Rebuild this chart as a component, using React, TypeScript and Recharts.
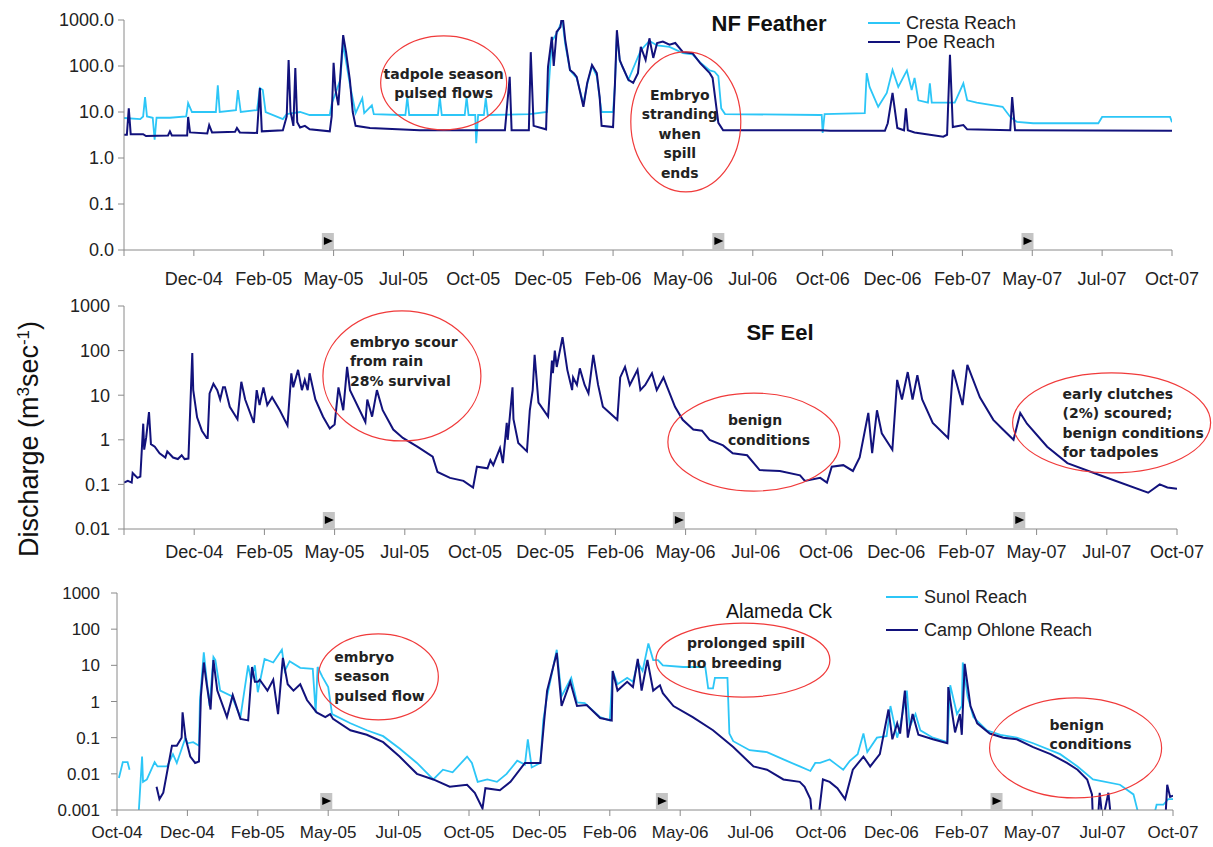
import React from 'react';
import { LineChart, Line, XAxis, YAxis, ReferenceDot, Legend } from 'recharts';

const FONT = '"Liberation Sans", Arial, sans-serif';
const NOTE_FONT = '"DejaVu Sans", Verdana, sans-serif';
const LIGHT = '#2cc6f7';
const NAVY = '#12127c';
const RED = '#f03a3a';

// x axis = days since 1 Oct 2004, one tick every 73 days
const dayTicks = [0, 73, 146, 219, 292, 365, 438, 511, 584, 657, 730, 803, 876, 949, 1022, 1095];
const monthLabels = ['Oct-04', 'Dec-04', 'Feb-05', 'May-05', 'Jul-05', 'Oct-05', 'Dec-05', 'Feb-06',
  'May-06', 'Jul-06', 'Oct-06', 'Dec-06', 'Feb-07', 'May-07', 'Jul-07', 'Oct-07'];
const monthLabelsNoFirst = ['', ...monthLabels.slice(1)];

// ---- NF Feather ----
const crestaDays = [0, 17, 20, 22, 24, 30, 32, 34, 48, 65, 67, 71, 96, 98, 100, 117, 119, 122, 139, 142, 145, 148, 166, 170, 184, 194, 215, 217, 226, 229, 236, 242, 249, 251, 259, 261, 288, 294, 296, 298, 328, 330, 332, 356, 358, 360, 367, 368, 370, 376, 378, 380, 424, 442, 447, 452, 458, 461, 466, 473, 480, 484, 489, 494, 497, 499, 511, 513, 515, 518, 527, 540, 549, 557, 570, 584, 594, 602, 612, 617, 621, 624, 628, 727, 729, 730, 732, 774, 776, 779, 788, 797, 803, 809, 818, 823, 826, 830, 840, 842, 844, 860, 868, 877, 881, 891, 918, 926, 933, 950, 1018, 1022, 1093, 1095];
const crestaFlow = [7.4, 7, 8, 21, 8, 7.5, 2.5, 7.5, 7.5, 8, 15.6, 10, 10, 38, 10, 11, 30, 10, 11, 33, 30, 10, 7, 9, 10, 8.6, 8.6, 15, 50, 300, 40, 9.5, 20, 9.5, 14, 9, 8.6, 8.6, 21, 8.6, 8.6, 21, 8.6, 8.6, 21, 8.6, 8.6, 2.1, 8.6, 8.6, 20, 8.6, 9, 10, 350, 500, 1000, 300, 80, 55, 15, 40, 100, 60, 20, 10, 10, 40, 500, 130, 50, 220, 350, 280, 260, 190, 180, 120, 80, 75, 60, 12, 9, 8.6, 8.6, 3.5, 9, 9.5, 70, 35, 13, 26, 82, 35, 80, 30, 55, 18, 16, 42, 16, 16, 16, 42, 18, 16, 13, 7.8, 6.1, 5.7, 5.7, 7.8, 7.8, 6];
const poeDays = [0, 3, 5, 7, 20, 23, 46, 48, 50, 66, 67, 69, 87, 89, 92, 116, 118, 121, 139, 142, 144, 166, 170, 172, 174, 177, 179, 181, 184, 189, 194, 215, 217, 219, 221, 224, 226, 229, 232, 236, 239, 242, 257, 309, 398, 403, 405, 423, 425, 428, 441, 443, 447, 449, 452, 456, 458, 461, 466, 470, 473, 480, 484, 489, 494, 497, 499, 511, 513, 515, 518, 521, 527, 532, 537, 540, 545, 549, 553, 557, 563, 570, 576, 584, 594, 602, 612, 615, 621, 626, 727, 738, 795, 798, 803, 808, 815, 817, 819, 826, 856, 860, 863, 866, 877, 881, 926, 928, 931, 1095];
const poeFlow = [3.2, 3.2, 12, 3.3, 3.3, 3.0, 3.1, 3.8, 3.1, 3.1, 7.8, 3.6, 3.4, 5.2, 3.6, 3.7, 4.5, 3.6, 3.5, 33, 3.8, 4.0, 8, 135, 10, 5, 90, 6, 4.6, 5.0, 4.2, 3.8, 8, 117, 30, 14, 60, 470, 200, 50, 10, 5, 4.5, 4.0, 4.0, 58, 4.0, 4.0, 200, 5, 4.2, 95, 430, 100, 550, 700, 1400, 370, 82, 70, 58, 13, 43, 105, 70, 21, 5, 4.7, 43, 600, 135, 95, 50, 43, 70, 260, 135, 400, 150, 316, 340, 290, 316, 200, 190, 115, 70, 55, 5.8, 4.0, 4.0, 3.9, 3.9, 5.7, 26, 4.5, 4.0, 12, 4.0, 3.6, 2.9, 3.2, 175, 4.7, 5.2, 4.2, 4.0, 21, 4.0, 3.9];
const featherTicks = [0.01, 0.1, 1, 10, 100, 1000];
const featherTickLabels = ['0.0', '0.1', '1.0', '10.0', '100.0', '1000.0'];
const featherMarkDays = [213, 621, 944];

// ---- SF Eel ----
const eelDays = [0, 4, 8, 9, 14, 17, 20, 21, 23, 26, 28, 32, 37, 43, 45, 51, 56, 60, 63, 67, 71, 72, 76, 81, 86, 87, 89, 93, 97, 100, 103, 105, 110, 118, 122, 126, 135, 138, 141, 145, 149, 154, 162, 170, 174, 176, 181, 185, 188, 191, 193, 199, 207, 214, 219, 223, 228, 232, 235, 251, 253, 258, 263, 269, 280, 290, 305, 321, 326, 339, 353, 363, 367, 378, 381, 384, 391, 394, 398, 399, 404, 405, 410, 419, 422, 425, 427, 431, 441, 445, 446, 448, 450, 456, 461, 466, 467, 471, 474, 479, 483, 488, 493, 498, 513, 516, 521, 526, 534, 537, 542, 549, 554, 561, 565, 573, 581, 592, 601, 609, 623, 633, 648, 661, 682, 703, 708, 724, 731, 736, 748, 758, 765, 774, 778, 783, 788, 799, 804, 809, 815, 820, 825, 830, 841, 857, 862, 872, 877, 890, 904, 914, 925, 932, 939, 960, 981, 1015, 1065, 1077, 1085, 1095];
const eelFlow = [0.11, 0.12, 0.11, 0.18, 0.14, 0.15, 2.3, 0.6, 1.1, 4.2, 0.8, 0.7, 0.5, 0.4, 0.55, 0.4, 0.37, 0.45, 0.37, 0.38, 88, 13, 3.2, 1.6, 1.1, 1.1, 11, 18, 13, 8, 15, 15, 5.5, 2.9, 20, 8, 2.4, 13, 6, 15, 6, 9, 4.6, 2.1, 31, 15, 37, 13, 22, 13, 31, 8, 3.3, 1.8, 2.2, 15, 4.6, 43, 13, 2.5, 8, 3.3, 13, 4.6, 1.7, 1.1, 0.7, 0.42, 0.19, 0.14, 0.12, 0.085, 0.25, 0.23, 0.35, 0.27, 0.65, 0.3, 2.4, 1, 15, 2.9, 0.85, 0.55, 4.6, 13, 80, 6.8, 3.3, 60, 31, 100, 43, 200, 37, 13, 25, 17, 40, 17, 11, 80, 17, 5.5, 2.8, 25, 43, 17, 37, 13, 17, 31, 13, 25, 15, 5.5, 2.8, 1.7, 1.6, 1.0, 0.75, 0.5, 0.45, 0.21, 0.2, 0.16, 0.12, 0.14, 0.11, 0.25, 0.27, 0.2, 0.4, 4, 0.5, 4.6, 1.4, 0.6, 22, 8, 33, 8, 28, 8, 2.4, 1.1, 37, 6, 48, 9, 2.8, 1.7, 1.0, 4, 2.3, 0.7, 0.3, 0.16, 0.065, 0.1, 0.085, 0.08];
const eelTicks = [0.01, 0.1, 1, 10, 100, 1000];
const eelTickLabels = ['0.01', '0.1', '1', '10', '100', '1000'];
const eelMarkDays = [213, 577, 931];

// ---- Alameda Ck ----
const sunolDays = [2, 6, 11, 13, 14, 22, 26, 27, 31, 39, 42, 52, 58, 62, 71, 73, 79, 85, 86, 90, 93, 96, 100, 102, 107, 119, 128, 136, 139, 143, 146, 153, 162, 171, 174, 179, 190, 203, 206, 208, 213, 219, 223, 242, 259, 276, 293, 311, 328, 338, 348, 363, 368, 374, 384, 394, 404, 415, 423, 426, 430, 439, 442, 446, 456, 461, 471, 477, 485, 501, 511, 514, 519, 529, 535, 540, 545, 551, 556, 561, 566, 587, 610, 613, 618, 620, 633, 635, 639, 656, 674, 691, 708, 719, 724, 729, 739, 746, 753, 760, 768, 774, 778, 788, 798, 802, 809, 812, 819, 822, 828, 833, 846, 861, 864, 871, 876, 877, 882, 888, 902, 916, 933, 950, 978, 996, 1012, 1040, 1054, 1061, 1074, 1078, 1085, 1090, 1095];
const sunolFlow = [0.0077, 0.021, 0.021, 0.013, null, 0.0005, 0.03, 0.006, 0.007, 0.021, 0.016, 0.016, 0.035, 0.02, 0.1, 0.07, 0.075, 0.06, 1.1, 23, 4, 0.75, 17, 14, 2, 1.4, 0.37, 10, 4, 10, 1.8, 15, 12, 27, 7, 13, 8.5, 8, 0.5, 9, 4.8, 2.5, 0.45, 0.25, 0.16, 0.11, 0.05, 0.02, 0.007, 0.013, 0.011, 0.03, 0.02, 0.006, 0.007, 0.006, 0.01, 0.023, 0.018, 0.09, 0.015, 0.02, 0.3, 1.4, 27, 1.4, 4.5, 0.95, 0.9, 0.37, 0.3, 7, 3, 4.5, 3.5, 12, 7, 40, 14, 14, 10, 9, 9, 2.3, 2.3, 4.5, 4.5, 0.13, 0.08, 0.045, 0.04, 0.025, 0.016, 0.012, 0.02, 0.02, 0.025, 0.018, 0.013, 0.023, 0.035, 0.13, 0.04, 0.1, 0.11, 0.75, 0.1, 0.2, 2, 0.2, 0.45, 0.16, 0.1, 0.075, 2.8, 0.45, 0.75, 12, 1.4, 0.37, 0.16, 0.12, 0.1, 0.07, 0.035, 0.016, 0.007, 0.005, 0.0027, 0.0005, 0.0005, 0.0014, 0.0014, 0.002, 0.002];
const ohloneDays = [41, 44, 48, 57, 62, 67, 68, 71, 76, 81, 85, 87, 90, 93, 97, 100, 104, 114, 120, 128, 136, 140, 143, 146, 148, 156, 162, 167, 172, 177, 183, 190, 197, 207, 216, 221, 224, 242, 259, 276, 293, 311, 328, 345, 363, 371, 379, 382, 397, 408, 423, 439, 443, 446, 456, 461, 470, 477, 487, 501, 513, 514, 519, 529, 535, 540, 544, 550, 556, 563, 566, 577, 597, 618, 639, 660, 674, 691, 708, 713, 719, 721, 727, 732, 739, 747, 755, 763, 774, 781, 791, 800, 804, 809, 812, 817, 820, 825, 831, 846, 861, 862, 869, 874, 876, 879, 885, 892, 905, 919, 933, 950, 968, 985, 996, 1006, 1011, 1012, 1017, 1019, 1022, 1028, 1031, 1087, 1089, 1092, 1095];
const ohloneFlow = [0.0044, 0.002, 0.003, 0.06, 0.06, 0.1, 0.5, 0.1, 0.03, 0.02, 0.022, 1.4, 12, 3, 0.6, 14, 2, 0.37, 1.5, 0.33, 0.3, 9, 3.5, 3.5, 4, 2, 4, 0.45, 16, 3, 2, 3, 1.1, 0.5, 0.37, 0.45, 0.33, 0.16, 0.12, 0.075, 0.03, 0.01, 0.007, 0.0044, 0.005, 0.003, 0.0011, 0.004, 0.0035, 0.006, 0.02, 0.02, 0.3, 2, 22, 0.75, 3.5, 0.75, 0.8, 0.35, 0.3, 7, 2, 3.5, 2.5, 15, 2, 14, 2, 2.8, 1.7, 0.75, 0.37, 0.16, 0.055, 0.016, 0.013, 0.007, 0.006, 0.0044, 0.002, 0.0005, 0.0005, 0.007, 0.006, 0.004, 0.002, 0.013, 0.03, 0.016, 0.035, 0.6, 0.09, 0.25, 0.13, 2, 0.1, 0.45, 0.12, 0.09, 0.07, 2.5, 0.14, 0.45, 0.12, 11, 0.75, 0.25, 0.13, 0.1, 0.09, 0.055, 0.035, 0.02, 0.013, 0.007, 0.0027, 0.0005, 0.0005, 0.003, 0.0005, 0.003, 0.0005, 0.0005, 0.005, 0.0023, 0.0025];
const alamedaTicks = [0.001, 0.01, 0.1, 1, 10, 100, 1000];
const alamedaTickLabels = ['0.001', '0.01', '0.1', '1', '10', '100', '1000'];
const alamedaMarkDays = [217, 565, 912];

type Pt = { d: number; v: number | null };
const toPoints = (days: number[], flow: (number | null)[]): Pt[] => days.map((d, i) => ({ d, v: flow[i] }));

type Series = { name: string; color: string; width: number; data: Pt[] };
type Note = { d: number; v: number; rx: number; ry: number; dx: number; dy: number; anchor: 'start' | 'middle'; lines: string[] };

const featherNotes: Note[] = [
  { d: 334, v: 43, rx: 63, ry: 47, dx: 0, dy: -9, anchor: 'middle', lines: ['tadpole season', 'pulsed flows'] },
  { d: 587, v: 6.1, rx: 55, ry: 70, dx: -6, dy: -27, anchor: 'middle', lines: ['Embryo', 'stranding', 'when', 'spill', 'ends'] },
];
const eelNotes: Note[] = [
  { d: 289, v: 27, rx: 79, ry: 65, dx: -52, dy: -34, anchor: 'start', lines: ['embryo scour', 'from rain', '28% survival'] },
  { d: 655, v: 0.89, rx: 86, ry: 49, dx: -26, dy: -22, anchor: 'start', lines: ['benign', 'conditions'] },
  { d: 1027, v: 2.4, rx: 99, ry: 50, dx: -49, dy: -29, anchor: 'start', lines: ['early clutches', '(2%) scoured;', 'benign conditions', 'for tadpoles'] },
];
const alamedaNotes: Note[] = [
  { d: 271, v: 4.8, rx: 60, ry: 43, dx: -44, dy: -20, anchor: 'start', lines: ['embryo', 'season', 'pulsed flow'] },
  { d: 649, v: 14, rx: 87, ry: 37, dx: -56, dy: -17, anchor: 'start', lines: ['prolonged spill', 'no breeding'] },
  { d: 994, v: 0.052, rx: 86, ry: 50, dx: -26, dy: -23, anchor: 'start', lines: ['benign', 'conditions'] },
];

const noteShape = (n: Note) => (props: any) => {
  const { cx, cy } = props;
  return (
    <g>
      <ellipse cx={cx} cy={cy} rx={n.rx} ry={n.ry} fill="none" stroke={RED} strokeWidth={1.2} />
      <text fontFamily={NOTE_FONT} fontSize={14} fontWeight="bold" fill="#222" textAnchor={n.anchor}>
        {n.lines.map((l, i) => (
          <tspan key={i} x={cx + n.dx} y={cy + n.dy + i * 19.5 + 5}>{l}</tspan>
        ))}
      </text>
    </g>
  );
};

const markShape = (props: any) => {
  const { cx, cy } = props;
  return (
    <g>
      <rect x={cx - 6} y={cy - 17} width={12} height={16} fill="#c4c4c4" />
      <polygon points={`${cx - 4},${cy - 13} ${cx + 5},${cy - 9} ${cx - 4},${cy - 5}`} fill="#000" />
    </g>
  );
};

// legend rows follow the order of the series, not the alphabet
const legendContent = (order: string[], fontSize: number, rowH: number) => (props: any) => {
  const items = [...(props.payload || [])].sort((a: any, b: any) => order.indexOf(a.value) - order.indexOf(b.value));
  return (
    <div style={{ fontFamily: FONT, fontSize, color: '#222', lineHeight: 1 }}>
      {items.map((p: any) => (
        <div key={p.value} style={{ display: 'flex', alignItems: 'center', height: rowH, whiteSpace: 'nowrap' }}>
          <span style={{ display: 'inline-block', width: 32, borderTop: `2px solid ${p.color}`, marginRight: 6 }} />
          {p.value}
        </div>
      ))}
    </div>
  );
};

type PanelProps = {
  top: number; height: number;
  margin: { top: number; right: number; bottom: number; left: number };
  series: Series[]; yTicks: number[]; yLabels: string[]; xLabels: string[];
  yFont: number; yMargin: number; xFont: number; xMargin: number; xHeight: number;
  marks: number[]; notes: Note[];
  legend?: { left: number; top: number; font: number; rowH: number };
};

function Panel(p: PanelProps) {
  const yMin = p.yTicks[0];
  const yMax = p.yTicks[p.yTicks.length - 1];
  const order = p.series.map((s) => s.name);
  return (
    <div style={{ position: 'absolute', left: 0, top: p.top }}>
      <LineChart width={1213} height={p.height} margin={p.margin}>
        <XAxis type="number" dataKey="d" domain={[0, 1095]} ticks={dayTicks} interval={0}
          tickFormatter={(v: number, i: number) => p.xLabels[i]} tickSize={6} tickMargin={p.xMargin}
          height={p.xHeight} stroke="#8a8a8a" allowDataOverflow
          tick={{ fill: '#222', fontSize: p.xFont, fontFamily: FONT }} />
        <YAxis scale="log" domain={[yMin, yMax]} ticks={p.yTicks} interval={0} allowDataOverflow
          tickFormatter={(v: number, i: number) => p.yLabels[i]} width={100} tickSize={6} tickMargin={p.yMargin}
          stroke="#8a8a8a" tick={{ fill: '#222', fontSize: p.yFont, fontFamily: FONT }} />
        {p.series.map((s) => (
          <Line key={s.name} data={s.data} dataKey="v" name={s.name} type="linear" dot={false}
            stroke={s.color} strokeWidth={s.width} connectNulls={false} isAnimationActive={false} />
        ))}
        {p.marks.map((d) => (
          <ReferenceDot key={'m' + d} x={d} y={yMin} r={1} ifOverflow="visible" shape={markShape} />
        ))}
        {p.notes.map((n, i) => (
          <ReferenceDot key={'n' + i} x={n.d} y={n.v} r={1} ifOverflow="visible" shape={noteShape(n)} />
        ))}
        {p.legend && (
          <Legend layout="horizontal" verticalAlign="middle" align="center"
            wrapperStyle={{ left: p.legend.left, top: p.legend.top, width: 'auto', height: 'auto' }}
            content={legendContent(order, p.legend.font, p.legend.rowH)} />
        )}
      </LineChart>
    </div>
  );
}

export default function App() {
  const feather: Series[] = [
    { name: 'Cresta Reach', color: LIGHT, width: 1.8, data: toPoints(crestaDays, crestaFlow) },
    { name: 'Poe Reach', color: NAVY, width: 2, data: toPoints(poeDays, poeFlow) },
  ];
  const eel: Series[] = [
    { name: 'SF Eel', color: NAVY, width: 2, data: toPoints(eelDays, eelFlow) },
  ];
  const alameda: Series[] = [
    { name: 'Sunol Reach', color: LIGHT, width: 1.8, data: toPoints(sunolDays, sunolFlow) },
    { name: 'Camp Ohlone Reach', color: NAVY, width: 2, data: toPoints(ohloneDays, ohloneFlow) },
  ];
  return (
    <div style={{ position: 'absolute', left: 0, top: 0, width: 1213, height: 847, background: '#fff', overflow: 'hidden' }}>
      <Panel top={0} height={300} margin={{ top: 20, right: 41, bottom: 10, left: 24 }}
        series={feather} yTicks={featherTicks} yLabels={featherTickLabels} xLabels={monthLabelsNoFirst}
        yFont={18} yMargin={4} xFont={18} xMargin={16} xHeight={40}
        marks={featherMarkDays} notes={featherNotes}
        legend={{ left: 868, top: 13.5, font: 18, rowH: 19 }} />
      <Panel top={290} height={290} margin={{ top: 16, right: 36, bottom: 11, left: 24 }}
        series={eel} yTicks={eelTicks} yLabels={eelTickLabels} xLabels={monthLabelsNoFirst}
        yFont={18} yMargin={8} xFont={18} xMargin={10} xHeight={40}
        marks={eelMarkDays} notes={eelNotes} />
      <Panel top={575} height={272} margin={{ top: 18, right: 40, bottom: 7, left: 17 }}
        series={alameda} yTicks={alamedaTicks} yLabels={alamedaTickLabels} xLabels={monthLabels}
        yFont={17} yMargin={11} xFont={17} xMargin={10} xHeight={30}
        marks={alamedaMarkDays} notes={alamedaNotes}
        legend={{ left: 886, top: 5.5, font: 18, rowH: 33 }} />
      <svg width={1213} height={847} style={{ position: 'absolute', left: 0, top: 0, pointerEvents: 'none' }}>
        <text x={769} y={31} textAnchor="middle" fontFamily={FONT} fontSize={22} fontWeight="bold" fill="#111">NF Feather</text>
        <text x={780} y={340} textAnchor="middle" fontFamily={FONT} fontSize={22} fontWeight="bold" fill="#111">SF Eel</text>
        <text x={779} y={618} textAnchor="middle" fontFamily={FONT} fontSize={19.5} fill="#111">Alameda Ck</text>
        <text transform="translate(38,439) rotate(-90)" textAnchor="middle" fontFamily={FONT} fontSize={27} fill="#111">
          Discharge (m<tspan dy={-9} fontSize={17}>3</tspan><tspan dy={9}>sec</tspan><tspan dy={-9} fontSize={17}>-1</tspan><tspan dy={9}>)</tspan>
        </text>
      </svg>
    </div>
  );
}
